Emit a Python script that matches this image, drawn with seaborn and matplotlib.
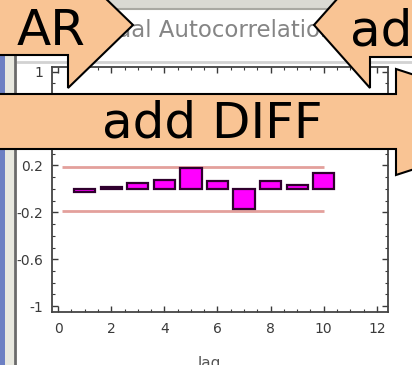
import matplotlib.pyplot as plt
import seaborn as sns
from matplotlib.patches import Polygon, Rectangle
from matplotlib.ticker import MultipleLocator

# residual autocorrelation by lag
lags = [1, 2, 3, 4, 5, 6, 7, 8, 9, 10]
acf = [-0.03, 0.02, 0.05, 0.075, 0.18, 0.07, -0.17, 0.065, 0.03, 0.14]
conf_band = 0.19
y_ticks = [-1, -0.6, -0.2, 0.2, 0.6, 1]
y_tick_labels = ["-1", "-0.6", "-0.2", "0.2", "0.6", "1"]
x_ticks = [0, 2, 4, 6, 8, 10, 12]
title = "Residual Autocorrelation"
callout_left = "AR"
callout_right = "add"
callout_banner = "add DIFF"

W, H = 412, 365
PEACH = "#f9c494"

sns.set_style("ticks")
plt.rcParams["font.family"] = ["DejaVu Sans"]
plt.rcParams["axes.unicode_minus"] = False

fig = plt.figure(figsize=(W / 100, H / 100), dpi=100)
fig.patch.set_facecolor("white")

# window chrome behind the plot
bg = fig.add_axes([0, 0, 1, 1])
bg.set_xlim(0, W)
bg.set_ylim(H, 0)
bg.axis("off")
bg.set_zorder(0)
bg.add_patch(Rectangle((0, 0), W, 8, color="#dadad3", lw=0))
bg.plot([0, W], [8.5, 8.5], color="#a9a9a2", lw=1.5)
bg.plot([17, W], [62, 62], color="#d2d2d2", lw=2)
bg.text(195, 37, title, ha="center", va="baseline", fontsize=16.5, color="#858585")

# the plot itself
ax = fig.add_axes([52 / W, (H - 312) / H, 336 / W, 245 / H])
ax.set_zorder(1)
ax.hlines([conf_band, -conf_band], 0.15, 10, color="#e3a09c", lw=2, zorder=0.5)
sns.barplot(x=lags, y=acf, native_scale=True, width=0.8, color="#ff00ff",
            saturation=1, edgecolor="#30002e", linewidth=1.6, ax=ax)
ax.set_xlim(-0.23, 12.42)
ax.set_ylim(-1.05, 1.04)
ax.set_xticks(x_ticks)
ax.set_xticklabels([str(t) for t in x_ticks])
ax.set_yticks(y_ticks)
ax.set_yticklabels(y_tick_labels)
ax.xaxis.set_minor_locator(MultipleLocator(0.5))
ax.yaxis.set_minor_locator(MultipleLocator(0.1))
ax.tick_params(which="both", direction="in", top=True, right=True,
               colors="#3a3a3a", labelsize=10)
ax.tick_params(which="major", length=4, width=1)
ax.tick_params(which="minor", length=2, width=0.8)
ax.tick_params(axis="y", pad=6.5)
ax.tick_params(axis="x", pad=7.5)
for s in ax.spines.values():
    s.set_color("#444444")
    s.set_linewidth(1.3)
ax.set_xlabel("lag", fontsize=11, color="#555555")
ax.xaxis.set_label_coords(0.467, -0.178)
ax.set_ylabel("")

# overlay: window frame on the left and the callout arrows
ov = fig.add_axes([0, 0, 1, 1])
ov.set_xlim(0, W)
ov.set_ylim(H, 0)
ov.axis("off")
ov.set_zorder(2)
ov.patch.set_alpha(0)
ov.add_patch(Rectangle((0, 0), 5, H, color="#6d80c3", lw=0))
ov.add_patch(Rectangle((5, 0), 9, H, color="#e8e8df", lw=0))
ov.plot([15, 15], [0, H], color="#6a6a6a", lw=2)

arrow_kw = dict(closed=True, facecolor=PEACH, edgecolor="black", lw=1.5, zorder=3)
ov.add_patch(Polygon([(-10, -10), (68, -10), (68, -38), (133, 25), (68, 88),
                      (68, 55), (-10, 55)], **arrow_kw))
ov.add_patch(Polygon([(425, -10), (370, -10), (370, -38), (314, 25), (370, 88),
                      (370, 57), (425, 57)], **arrow_kw))
ov.add_patch(Polygon([(-10, 94), (396, 94), (396, 69), (560, 122), (396, 175),
                      (396, 149), (-10, 149)], **arrow_kw))
text_kw = dict(fontsize=36, ha="left", va="baseline", color="black", zorder=4)
ov.text(17, 45, callout_left, **text_kw)
ov.text(350, 45, callout_right, **text_kw)
ov.text(102, 138, callout_banner, **text_kw)

fig.savefig("out.png", dpi=100)
